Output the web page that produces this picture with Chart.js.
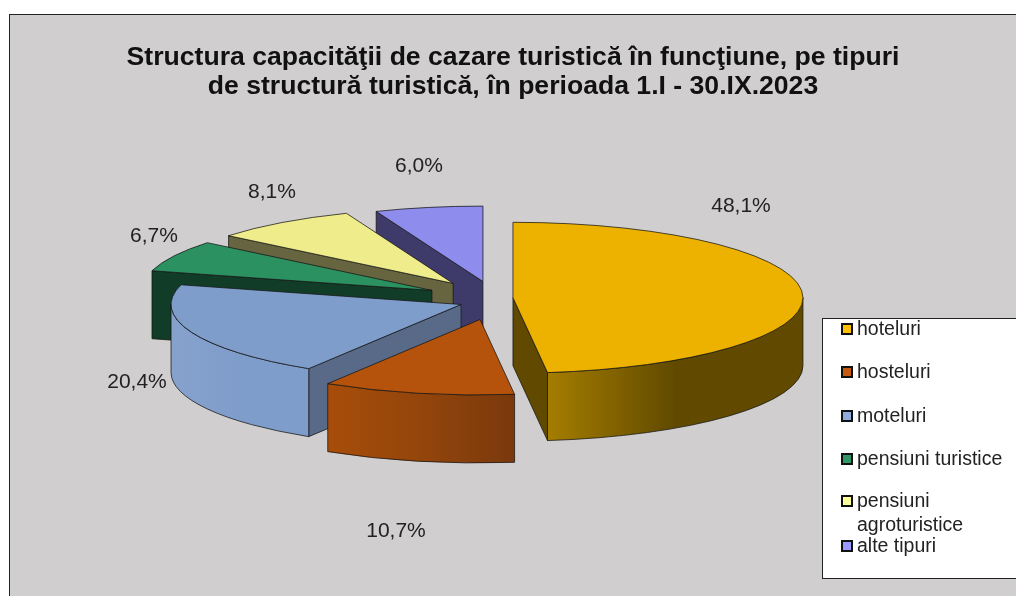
<!DOCTYPE html>
<html>
<head>
<meta charset="utf-8">
<title>Structura capacității de cazare turistică</title>
<script src="https://cdn.jsdelivr.net/npm/chart.js@4/dist/chart.umd.min.js"></script>
<style>
    html, body { margin: 0; padding: 0; background: #fff; overflow: hidden; }
    #frame { position: absolute; left: 9px; top: 14px; width: 1007px; height: 582px; background: #d0cecf; border-left: 1px solid #222; border-top: 1px solid #222; box-sizing: border-box; }
    canvas { display: block; }
</style>
</head>
<body>
<div id="frame"><canvas id="pie" width="1006" height="581"></canvas></div>
<script>
// Chart values
const categories = ['hoteluri', 'hosteluri', 'moteluri', 'pensiuni turistice', 'pensiuni agroturistice', 'alte tipuri'];
const shares = [48.1, 10.7, 20.4, 6.7, 8.1, 6.0];
const titleLines = ['Structura capacităţii de cazare turistică în funcţiune, pe tipuri', 'de structură turistică, în perioada 1.I - 30.IX.2023'];
const legendLines = [['hoteluri'], ['hosteluri'], ['moteluri'], ['pensiuni turistice'], ['pensiuni', 'agroturistice'], ['alte tipuri']];

// Slice colours
const topColors = ['#edb200', '#b5530c', '#7f9dcb', '#2c9160', '#eeec8b', '#8e8dee'];
const cutColors = ['#614a00', '#7d3a0c', '#586a88', '#113c28', '#666540', '#3e3b6a'];
const wallLeft = ['#a57d00', '#a84d0a', '#86a1cc'];
const wallMid = ['#614a00', '#93450b', '#7f9dcb'];
const wallRight = ['#614a00', '#7a390c', '#7f9dcb'];
const swatchColors = ['#ffc000', '#c55a11', '#8faadc', '#2f9668', '#ffff99', '#9999ff'];

// 3D look: the explosion of each slice and the flattening of the circle
const sliceOffset = [25, 37, 29, 63, 59, 27];
const sliceLift = [2.6, 14.6, 6.2, 2.4, 0.3, -7.1];
const TILT = 0.26;
const DEPTH = 68;
const PIE_SHIFT = -25; // the title stays centred on the canvas, the pie sits left of it

// Where the percent labels and the legend rows sit
const labelX = [731, 386, 127, 144, 262, 409];
const labelY = [191, 516, 367, 221, 177, 151];
const legendY = [314, 357, 401, 444, 486, 531];
const LEGEND_LINE = 24;

function rimPoint(cx, cy, r, angle) {
    return [cx + r * Math.cos(angle), cy + r * TILT * Math.sin(angle)];
}

function drawSlice(ctx, arc, i) {
    const r = arc.outerRadius;
    const a0 = arc.startAngle;
    const a1 = arc.endAngle;
    const mid = (a0 + a1) / 2;
    const cx = arc.x + PIE_SHIFT + Math.cos(mid) * arc.options.offset;
    const cy = arc.y + Math.sin(mid) * arc.options.offset * TILT + sliceLift[i];

    ctx.lineWidth = 1;
    ctx.lineJoin = 'round';
    ctx.strokeStyle = 'rgba(20, 20, 20, 0.75)';

    // cut faces turned towards the viewer
    [[a0, a0 - Math.PI / 2], [a1, a1 + Math.PI / 2]].forEach(([edge, normal]) => {
        if (Math.sin(normal) <= 0.01) return;
        const p = rimPoint(cx, cy, r, edge);
        ctx.beginPath();
        ctx.moveTo(cx, cy);
        ctx.lineTo(p[0], p[1]);
        ctx.lineTo(p[0], p[1] + DEPTH);
        ctx.lineTo(cx, cy + DEPTH);
        ctx.closePath();
        ctx.fillStyle = cutColors[i];
        ctx.fill();
        ctx.stroke();
    });

    // outer wall, only the front half of the ellipse shows
    const w0 = Math.max(a0, 0);
    const w1 = Math.min(a1, Math.PI);
    if (w1 > w0) {
        const grad = ctx.createLinearGradient(cx + r * Math.cos(w1), 0, cx + r * Math.cos(w0), 0);
        grad.addColorStop(0, wallLeft[i]);
        grad.addColorStop(0.5, wallMid[i]);
        grad.addColorStop(1, wallRight[i]);
        ctx.fillStyle = grad;
        ctx.beginPath();
        ctx.ellipse(cx, cy, r, r * TILT, 0, w0, w1);
        ctx.ellipse(cx, cy + DEPTH, r, r * TILT, 0, w1, w0, true);
        ctx.closePath();
        ctx.fill();
        ctx.stroke();
    }

    // top face
    ctx.beginPath();
    ctx.moveTo(cx, cy);
    ctx.ellipse(cx, cy, r, r * TILT, 0, a0, a1);
    ctx.closePath();
    ctx.fillStyle = topColors[i];
    ctx.fill();
    ctx.stroke();
}

const pie3dPlugin = {
    id: 'pie3d',
    beforeDatasetsDraw(chart) {
        const ctx = chart.ctx;
        const arcs = chart.getDatasetMeta(0).data;
        ctx.save();
        // back slices first, the hotel slice comes last
        for (let i = arcs.length - 1; i >= 0; i--) {
            drawSlice(ctx, arcs[i], i);
        }
        ctx.restore();
        return false; // the flat library pie is not wanted
    },
    afterDraw(chart) {
        const ctx = chart.ctx;
        ctx.save();

        // percent labels
        ctx.font = '21px "Liberation Sans"';
        ctx.fillStyle = '#222';
        ctx.textAlign = 'center';
        ctx.textBaseline = 'middle';
        shares.forEach((v, i) => {
            ctx.fillText(v.toFixed(1).replace('.', ',') + '%', labelX[i], labelY[i]);
        });

        // legend box, runs off the right edge like the original
        ctx.fillStyle = '#fff';
        ctx.strokeStyle = '#222';
        ctx.lineWidth = 1;
        ctx.fillRect(812.5, 303.5, 210, 260);
        ctx.strokeRect(812.5, 303.5, 210, 260);
        ctx.font = '19.5px "Liberation Sans"';
        ctx.textAlign = 'left';
        legendLines.forEach((lines, i) => {
            ctx.fillStyle = swatchColors[i];
            ctx.fillRect(832, legendY[i] - 5, 10, 10);
            ctx.strokeStyle = '#111';
            ctx.lineWidth = 2;
            ctx.strokeRect(832, legendY[i] - 5, 10, 10);
            ctx.fillStyle = '#222';
            lines.forEach((line, n) => {
                ctx.fillText(line, 847, legendY[i] + 1 + n * LEGEND_LINE);
            });
        });
        ctx.restore();
    }
};

new Chart(document.getElementById('pie'), {
    type: 'pie',
    data: {
        labels: categories,
        datasets: [{
            data: shares,
            backgroundColor: topColors,
            offset: sliceOffset,
            radius: 290
        }]
    },
    options: {
        responsive: false,
        animation: false,
        layout: { padding: { left: 0, right: 0, top: 0, bottom: 106 } },
        plugins: {
            legend: { display: false },
            tooltip: { enabled: false },
            title: {
                display: true,
                text: titleLines,
                color: '#111',
                font: { family: '"Liberation Sans"', size: 26.6, weight: 'bold', lineHeight: 1.09 },
                padding: { top: 28, bottom: 0 }
            }
        }
    },
    plugins: [pie3dPlugin]
});
</script>
</body>
</html>
